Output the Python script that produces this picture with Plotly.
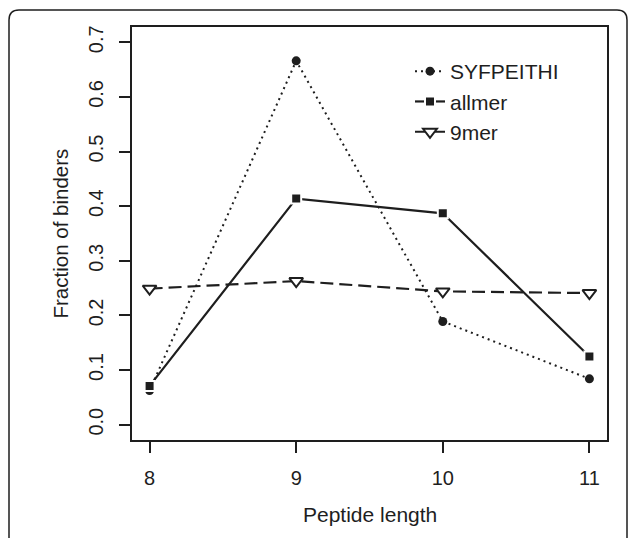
import plotly.graph_objects as go

# figure / plot-area geometry in pixels
W, H = 629, 538
L, R, T, B = 132, 607, 27, 440

peptide_length = [8, 9, 10, 11]
syfpeithi = [0.0625, 0.666, 0.189, 0.084]
allmer = [0.071, 0.414, 0.387, 0.125]
ninemer = [0.249, 0.263, 0.244, 0.241]
y_ticks = [0.0, 0.1, 0.2, 0.3, 0.4, 0.5, 0.6, 0.7]
y_ticktext = ["0.0", "0.1", "0.2", "0.3", "0.4", "0.5", "0.6", "0.7"]

INK = "#1e1e1e"
FONT = "Liberation Sans, Arial, sans-serif"


def px_x(p):
    return (p - L) / (R - L)


def px_y(p):
    return (B - p) / (B - T)


fig = go.Figure()

fig.add_trace(go.Scatter(
    x=peptide_length, y=syfpeithi, name="SYFPEITHI", mode="lines+markers",
    line=dict(color=INK, width=2, dash="2px,4px"),
    marker=dict(symbol="circle", size=9, color=INK),
))
fig.add_trace(go.Scatter(
    x=peptide_length, y=allmer, name="allmer", mode="lines+markers",
    line=dict(color=INK, width=2.2),
    marker=dict(symbol="square", size=10, color=INK, line=dict(color="white", width=2)),
))
fig.add_trace(go.Scatter(
    x=peptide_length, y=ninemer, name="9mer", mode="lines+markers",
    line=dict(color=INK, width=2.2, dash="13px,6px"),
    marker=dict(symbol="triangle-down", size=12, color="white", line=dict(color=INK, width=2)),
))

# rounded frame around the whole figure (bottom runs off the picture)
x0, x1, y0, y1, r = px_x(9), px_x(627), px_y(10), px_y(560), 10 / (R - L)
ry = 10 / (B - T)
frame = (f"M {x0},{y1} L {x0},{y0 - ry} Q {x0},{y0} {x0 + r},{y0} "
         f"L {x1 - r},{y0} Q {x1},{y0} {x1},{y0 - ry} L {x1},{y1}")
fig.add_shape(type="path", path=frame, xref="paper", yref="paper",
              line=dict(color=INK, width=1.5))

fig.add_annotation(text="Peptide length", x=0.5, y=px_y(528), xref="paper", yref="paper",
                   showarrow=False, font=dict(size=21, color=INK, family=FONT))
fig.add_annotation(text="Fraction of binders", x=px_x(46), y=px_y(234), xref="paper", yref="paper",
                   showarrow=False, textangle=-90, font=dict(size=20.5, color=INK, family=FONT))

fig.update_xaxes(
    range=[7.88, 11.12], tickvals=peptide_length, ticks="outside", ticklen=11,
    tickwidth=1.5, tickcolor=INK, showline=True, linecolor=INK, linewidth=1.5,
    mirror=True, showgrid=False, zeroline=False, ticklabelstandoff=8,
    tickfont=dict(size=20, color=INK, family=FONT),
)
fig.update_yaxes(
    range=[-0.028, 0.728], tickvals=y_ticks, ticktext=y_ticktext, ticks="outside",
    ticklen=11, tickwidth=1.5, tickcolor=INK, showline=True, linecolor=INK,
    linewidth=1.5, mirror=True, showgrid=False, zeroline=False, tickangle=-90,
    ticklabelstandoff=8, tickfont=dict(size=20, color=INK, family=FONT),
)

fig.update_layout(
    width=W, height=H,
    margin=dict(l=L, r=W - R, t=T, b=H - B, autoexpand=False),
    plot_bgcolor="white", paper_bgcolor="white",
    font=dict(family=FONT, color=INK, size=20),
    showlegend=True,
    legend=dict(x=px_x(410), y=px_y(51), xanchor="left", yanchor="top",
                bgcolor="rgba(0,0,0,0)", font=dict(size=21), tracegroupgap=0,
                itemwidth=30),
)

# page body margin would shift the figure by 8px
fig.write_html("out.html", config={"displayModeBar": False},
               post_script="document.body.style.margin='0px';")
